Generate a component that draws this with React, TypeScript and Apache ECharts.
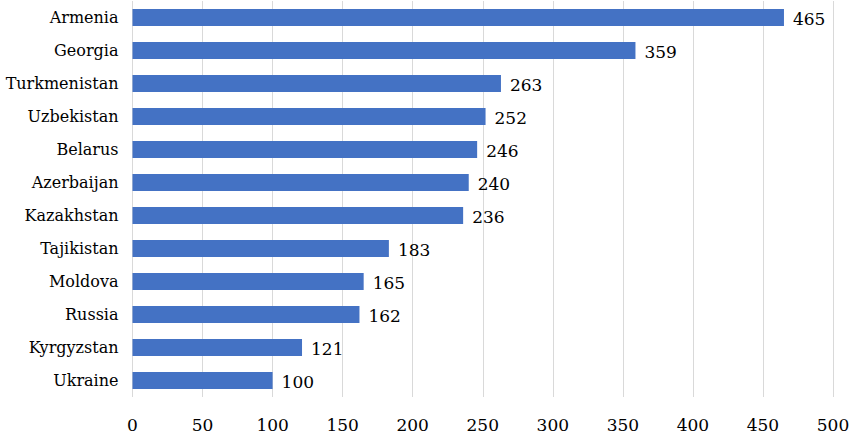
import React, { useEffect, useRef } from "react";
import * as echarts from "echarts";

const countries = [
  "Armenia",
  "Georgia",
  "Turkmenistan",
  "Uzbekistan",
  "Belarus",
  "Azerbaijan",
  "Kazakhstan",
  "Tajikistan",
  "Moldova",
  "Russia",
  "Kyrgyzstan",
  "Ukraine",
];
const values = [465, 359, 263, 252, 246, 240, 236, 183, 165, 162, 121, 100];
const axisMin = 0;
const axisMax = 500;
const axisStep = 50;

const FONT = "DejaVu Serif";
const FS = 17;
const FS_CAT = 16;

export default function App() {
  const ref = useRef<HTMLDivElement>(null);
  useEffect(() => {
    if (!ref.current) return;
    const chart = echarts.init(ref.current, undefined, { renderer: "svg" });
    chart.setOption({
      animation: false,
      backgroundColor: "#ffffff",
      textStyle: { fontFamily: FONT, fontSize: FS },
      grid: {
        left: 132.5,
        right: 17,
        top: 1,
        bottom: 37,
        containLabel: false,
        outerBoundsMode: "none",
      },
      xAxis: {
        type: "value",
        min: axisMin,
        max: axisMax,
        interval: axisStep,
        axisLine: { show: false },
        axisTick: { show: false },
        splitLine: { show: true, lineStyle: { color: "#d9d9d9", width: 1 } },
        axisLabel: { color: "#000", fontFamily: FONT, fontSize: FS, margin: 19 },
      },
      yAxis: {
        type: "category",
        data: countries,
        inverse: true,
        axisLine: { show: false },
        axisTick: { show: false },
        axisLabel: { color: "#000", fontFamily: FONT, fontSize: FS_CAT, margin: 14 },
      },
      series: [
        {
          type: "bar",
          data: values,
          barWidth: 17,
          itemStyle: { color: "#4472c4" },
          label: {
            show: true,
            position: "right",
            distance: 9,
            offset: [0, 1.5],
            color: "#000",
            fontFamily: FONT,
            fontSize: FS,
          },
        },
      ],
    });
    return () => chart.dispose();
  }, []);
  return (
    <div
      ref={ref}
      style={{ position: "fixed", left: 0, top: 0, width: 850, height: 434, background: "#fff" }}
    />
  );
}
